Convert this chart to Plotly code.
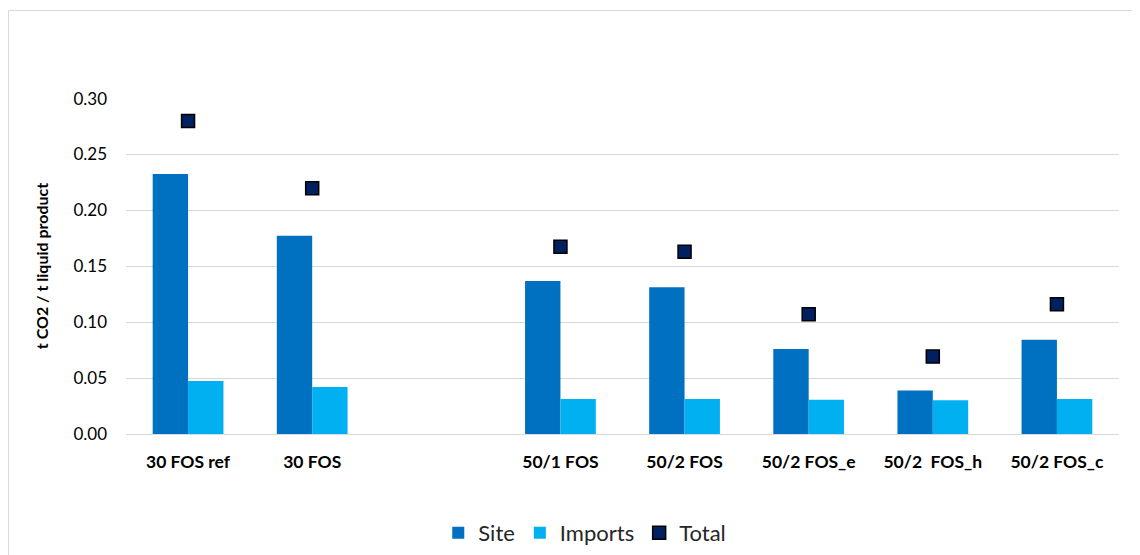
import plotly.graph_objects as go

categories = ["30 FOS ref", "30 FOS", " ", "50/1 FOS", "50/2 FOS", "50/2 FOS_e", "50/2  FOS_h", "50/2 FOS_c"]
site = [0.2325, 0.1774, None, 0.1368, 0.1312, 0.0760, 0.0390, 0.0844]
imports = [0.0474, 0.0420, None, 0.0313, 0.0313, 0.0307, 0.0301, 0.0313]
total = [0.2800, 0.2197, None, 0.1675, 0.1630, 0.1070, 0.0692, 0.1160]
y_ticks = [0.00, 0.05, 0.10, 0.15, 0.20, 0.25, 0.30]

# page has an 8px body margin; figure offset accordingly so plot area lands where the reference has it
W, H = 1140, 555
ML, MR, MT, MB = 118, 29, 90, 129
FONT = "Lato"

fig = go.Figure()
fig.add_trace(go.Bar(name="Site", x=categories, y=site, marker=dict(color="#0070C0", line=dict(width=0))))
fig.add_trace(go.Bar(name="Imports", x=categories, y=imports, marker=dict(color="#00B0F0", line=dict(width=0))))
fig.add_trace(go.Scatter(name="Total", x=categories, y=total, mode="markers",
                         marker=dict(symbol="square", size=13, color="#002060",
                                     line=dict(color="#000000", width=1.5))))

pw = W - ML - MR
ph = H - MT - MB
bx = (0.5 - ML) / pw
by_top = (H - MB - 2.5) / ph
bx_right = (W + 20 - ML) / pw
by_bottom = (H - MB - (H + 20)) / ph
# chart-area border: only the left and top edges fall inside the view
fig.add_shape(type="line", xref="paper", yref="paper", x0=bx, x1=bx, y0=by_bottom, y1=by_top,
              line=dict(color="#d9d9d9", width=1), layer="below")
fig.add_shape(type="line", xref="paper", yref="paper", x0=bx, x1=bx_right, y0=by_top, y1=by_top,
              line=dict(color="#d9d9d9", width=1), layer="below")

fig.update_layout(
    width=W, height=H,
    margin=dict(l=ML, r=MR, t=MT, b=MB, autoexpand=False),
    paper_bgcolor="white", plot_bgcolor="white",
    barmode="group", bargap=0.43, bargroupgap=0,
    font=dict(family=FONT, color="#000000"),
    showlegend=True,
    legend=dict(orientation="h", x=0.462, xanchor="center", y=(434 - 533) / ph, yanchor="middle",
                font=dict(size=22, color="#262626"), traceorder="normal", itemwidth=30),
    xaxis=dict(type="category", showgrid=False, showline=False, zeroline=False, ticks="",
               tickfont=dict(size=17.5, weight="bold", color="#000000"), ticklabelstandoff=15),
    yaxis=dict(range=[0, 0.3005], tickvals=y_ticks, tickformat=".2f",
               showgrid=True, gridcolor="#d9d9d9", gridwidth=1.3,
               zeroline=True, zerolinecolor="#d9d9d9", zerolinewidth=1.3,
               showline=False, ticks="", tickfont=dict(size=17, color="#000000"),
               ticklabelstandoff=18,
               title=dict(text="t CO2 / t liquid product", standoff=20,
                          font=dict(size=16, weight="bold", color="#000000"))),
)

fig.write_html("out.html")
